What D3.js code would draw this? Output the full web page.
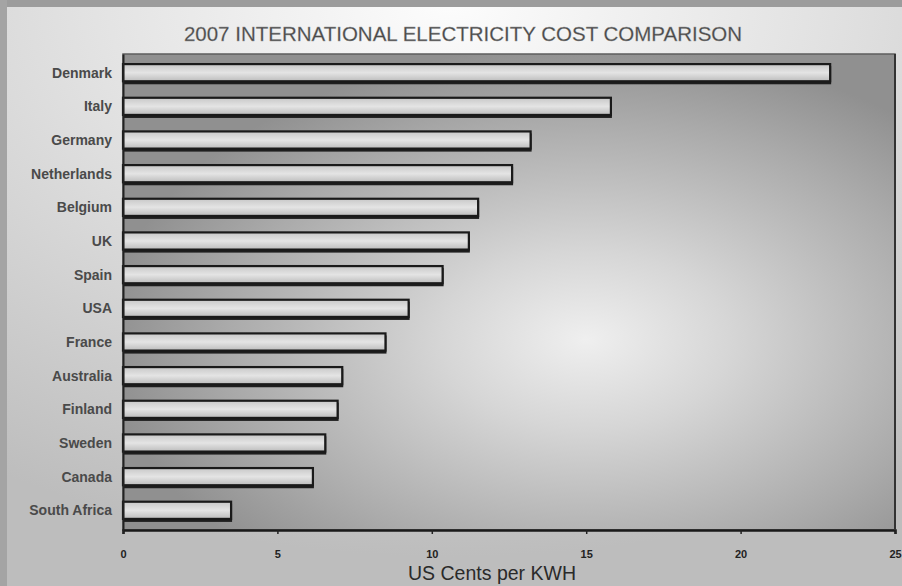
<!DOCTYPE html>
<html>
<head>
<meta charset="utf-8">
<script src="https://cdn.jsdelivr.net/npm/d3@7"></script>
<style>
  html, body { margin: 0; padding: 0; background: #fff; }
  svg { display: block; }
</style>
</head>
<body>
<svg id="chart" width="902" height="586"></svg>
<script>
const categories = ["Denmark","Italy","Germany","Netherlands","Belgium","UK","Spain","USA","France","Australia","Finland","Sweden","Canada","South Africa"];
const values = [22.9, 15.8, 13.2, 12.6, 11.5, 11.2, 10.35, 9.25, 8.5, 7.1, 6.95, 6.55, 6.15, 3.5];
const tickValues = [0, 5, 10, 15, 20, 25];
const titleText = "2007 INTERNATIONAL ELECTRICITY COST COMPARISON";
const xTitle = "US Cents per KWH";

const W = 902, H = 586;
const margin = {top: 54, right: 7, bottom: 56, left: 123};
const svg = d3.select("#chart");
const defs = svg.append("defs");

// page background gradient
const bg = defs.append("radialGradient").attr("id", "bgGrad")
  .attr("cx", "0.5").attr("cy", "0.0").attr("r", "0.95");
bg.append("stop").attr("offset", "0").attr("stop-color", "#fdfdfd");
bg.append("stop").attr("offset", "0.4").attr("stop-color", "#e4e4e4");
bg.append("stop").attr("offset", "1").attr("stop-color", "#bdbdbd");

const pg = defs.append("radialGradient").attr("id", "plotGrad")
  .attr("cx", "0.6").attr("cy", "0.6").attr("r", "0.62");
pg.append("stop").attr("offset", "0").attr("stop-color", "#efefef");
pg.append("stop").attr("offset", "0.3").attr("stop-color", "#d6d6d6");
pg.append("stop").attr("offset", "0.75").attr("stop-color", "#aaaaaa");
pg.append("stop").attr("offset", "1").attr("stop-color", "#909090");

const barGrad = defs.append("linearGradient").attr("id", "barGrad")
  .attr("x1", 0).attr("y1", 0).attr("x2", 0).attr("y2", 1);
barGrad.append("stop").attr("offset", "0").attr("stop-color", "#c8c8c8");
barGrad.append("stop").attr("offset", "0.5").attr("stop-color", "#e4e4e4");
barGrad.append("stop").attr("offset", "1").attr("stop-color", "#bcbcbc");

svg.append("rect").attr("x", 0).attr("y", 0).attr("width", W).attr("height", H)
  .attr("fill", "url(#bgGrad)");
// outer frame: top and left bands as in the scan
svg.append("rect").attr("x", 0).attr("y", 0).attr("width", W).attr("height", 7).attr("fill", "#9c9c9c");
svg.append("rect").attr("x", 0).attr("y", 0).attr("width", 7).attr("height", H).attr("fill", "#a4a4a4");

const x = d3.scaleLinear().domain([0, 25]).range([margin.left, W - margin.right]);
const y = d3.scaleBand().domain(categories).range([margin.top, H - margin.bottom])
  .paddingInner(0.46).paddingOuter(0.3);

// plot area
svg.append("rect").attr("x", x(0)).attr("y", margin.top)
  .attr("width", x(25) - x(0)).attr("height", H - margin.bottom - margin.top)
  .attr("fill", "url(#plotGrad)").attr("stroke", "#5e5e5e").attr("stroke-width", 1.5);

// bars: shadow + body
const g = svg.append("g");
g.selectAll("rect.shadow").data(categories).join("rect").attr("class", "shadow")
  .attr("x", x(0)).attr("y", d => y(d) + 2)
  .attr("width", (d, i) => x(values[i]) - x(0) + 1)
  .attr("height", y.bandwidth())
  .attr("fill", "#1e1e1e");
g.selectAll("rect.bar").data(categories).join("rect").attr("class", "bar")
  .attr("x", x(0)).attr("y", d => y(d))
  .attr("width", (d, i) => x(values[i]) - x(0))
  .attr("height", y.bandwidth() - 1)
  .attr("fill", "url(#barGrad)")
  .attr("stroke", "#1a1a1a").attr("stroke-width", 2.2);

// axes
const xAxis = svg.append("g").attr("transform", `translate(0,${H - margin.bottom})`)
  .call(d3.axisBottom(x).tickValues(tickValues).tickSize(4).tickPadding(16).tickFormat(d3.format("d")));
xAxis.select(".domain").attr("stroke", "#1a1a1a").attr("stroke-width", 2.5);
xAxis.selectAll(".tick line").attr("stroke", "#222").attr("stroke-width", 1.5);
xAxis.selectAll(".tick text").attr("font-family", "Arial, Liberation Sans, sans-serif")
  .attr("font-size", 11).attr("font-weight", "bold").attr("fill", "#222");

const yAxis = svg.append("g").attr("transform", `translate(${x(0)},0)`)
  .call(d3.axisLeft(y).tickSize(0).tickPadding(11));
yAxis.select(".domain").attr("stroke", "#222").attr("stroke-width", 2);
yAxis.selectAll(".tick text").attr("font-family", "Arial, Liberation Sans, sans-serif")
  .attr("font-size", 14).attr("font-weight", "bold").attr("fill", "#4a4a4a");

// right edge line
svg.append("line").attr("x1", x(25)).attr("x2", x(25))
  .attr("y1", margin.top).attr("y2", H - margin.bottom)
  .attr("stroke", "#333").attr("stroke-width", 2);

// titles
svg.append("text").attr("x", 463).attr("y", 41).attr("text-anchor", "middle")
  .attr("font-family", "Arial, Liberation Sans, sans-serif").attr("font-size", 20.5)
  .attr("fill", "#4a4a4a").attr("stroke", "#999").attr("stroke-width", 0.3)
  .text(titleText);
svg.append("text").attr("x", 492).attr("y", 580).attr("text-anchor", "middle")
  .attr("font-family", "Arial, Liberation Sans, sans-serif").attr("font-size", 19.5)
  .attr("fill", "#2a2a2a")
  .text(xTitle);
</script>
</body>
</html>
